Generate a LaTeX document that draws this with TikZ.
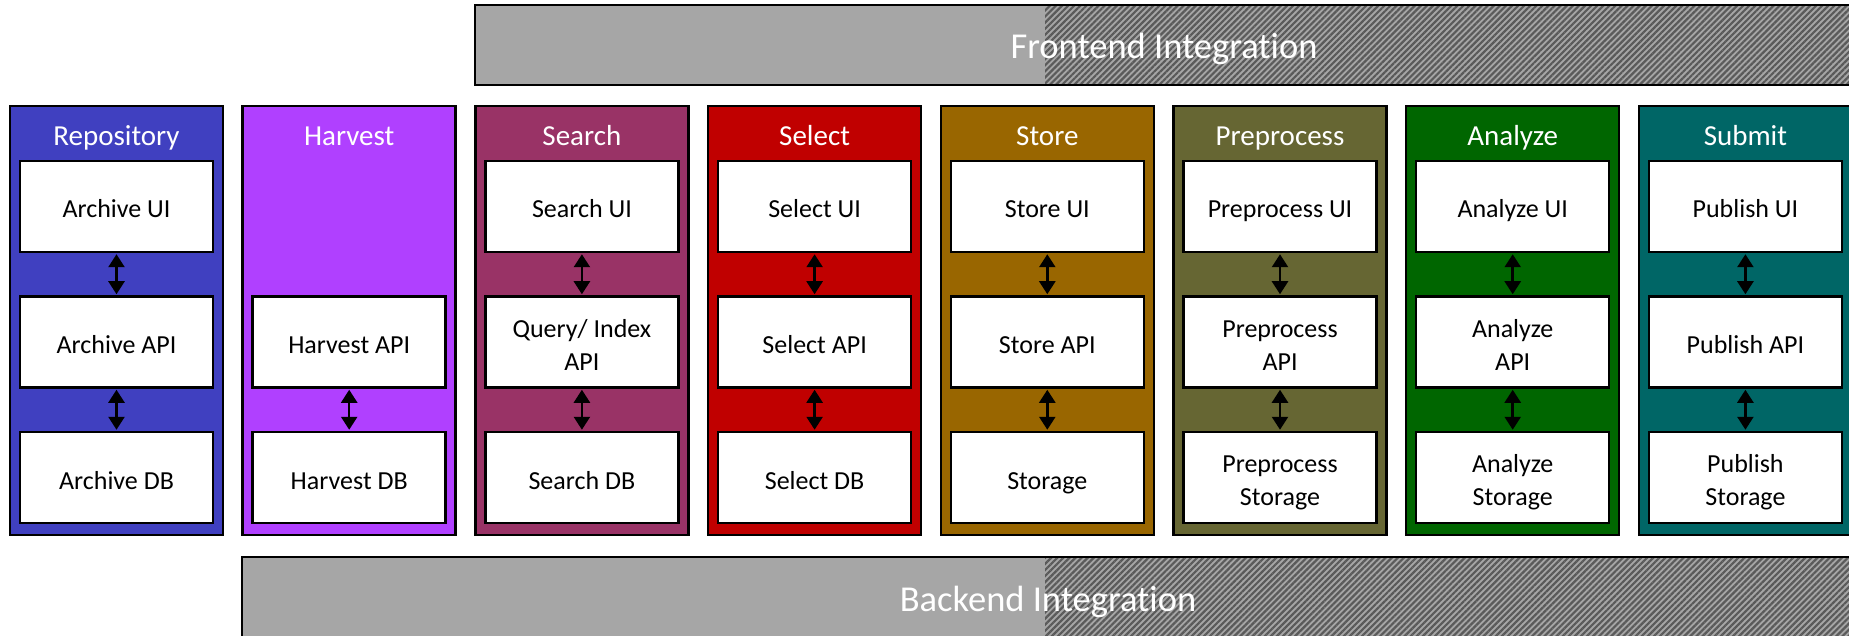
\documentclass[tikz,border=0pt]{standalone}
\usepackage{fontspec}
\setmainfont{Carlito}[Ligatures=NoCommon]
\usetikzlibrary{arrows.meta,patterns.meta}
\definecolor{cRepo}{RGB}{64,64,192}
\definecolor{cHarv}{RGB}{176,64,255}
\definecolor{cSearch}{RGB}{153,51,102}
\definecolor{cSelect}{RGB}{192,0,0}
\definecolor{cStore}{RGB}{153,102,0}
\definecolor{cPre}{RGB}{102,102,51}
\definecolor{cAna}{RGB}{0,102,0}
\definecolor{cSub}{RGB}{0,102,102}
\definecolor{barGray}{RGB}{166,166,166}
\definecolor{hatchGray}{RGB}{90,90,90}
\newcommand{\lstrut}{\rule[-7pt]{0pt}{37pt}}
\newcommand{\boxfont}{\fontsize{26}{33}\selectfont\lineskiplimit=-100pt\relax\lineskip=0pt\relax}
\tikzset{
  colbox/.style={draw=black, line width=2.5pt, minimum width=213pt, minimum height=429pt, inner sep=0pt},
  coltitle/.style={text=white, font=\fontsize{29}{34}\selectfont, inner sep=0pt, anchor=base},
  box/.style={draw=black, fill=white, line width=2.5pt, minimum width=193pt, minimum height=91pt, inner sep=0pt, align=center, font=\boxfont},
  dbl/.style={line width=2.5pt, {Triangle[width=16pt,length=13pt]}-{Triangle[width=16pt,length=13pt]}, shorten <=1pt, shorten >=1pt},
  barframe/.style={draw=black, line width=2.5pt},
  bartext/.style={text=white, font=\fontsize{36.5}{42}\selectfont, inner sep=0pt, anchor=base},
  hatch/.style={pattern={Lines[angle=45,distance=4.3pt,line width=2.2pt]}, pattern color=hatchGray}
}
\begin{document}
\begin{tikzpicture}[x=1pt,y=-1pt]
\useasboundingbox (0,0) rectangle (1849,636);
\clip (0,0) rectangle (1849,636);
% Frontend bar
\fill[barGray] (475,5) rectangle (1856,85);
\fill[hatch] (1045,5) rectangle (1856,85);
\draw[barframe] (475,5) rectangle (1856,85);
\node[bartext] (front) at (1164,59) {Frontend Integrat\kern0pt ion};
% Backend bar
\fill[barGray] (242,557) rectangle (1856,642);
\fill[hatch] (1045,557) rectangle (1856,642);
\draw[barframe] (242,557) rectangle (1856,642);
\node[bartext] (back) at (1048,611) {Backend Integrat\kern0pt ion};
% columns
\foreach \i/\c/\t in {0/cRepo/Repository,1/cHarv/Harvest,2/cSearch/Search,3/cSelect/Select,4/cStore/Store,5/cPre/Preprocess,6/cAna/Analyze,7/cSub/Submit}{
  \pgfmathsetmacro{\cx}{116.5+232.7*\i}
  \node[colbox, fill=\c] (col\i) at (\cx,320.5) {};
  \node[coltitle] (title\i) at (\cx,146) {\t};
}
% Repository
\node[box] (repoUI) at (116.5,206.5) {\lstrut Archive UI};
\node[box] (repoAPI) at (116.5,342) {\lstrut Archive API};
\node[box] (repoDB) at (116.5,477.5) {\lstrut Archive DB};
\draw[dbl] (repoUI.south) -- (repoAPI.north);
\draw[dbl] (repoAPI.south) -- (repoDB.north);
% Harvest
\node[box] (harvAPI) at (349.2,342) {\lstrut Harvest API};
\node[box] (harvDB) at (349.2,477.5) {\lstrut Harvest DB};
\draw[dbl] (harvAPI.south) -- (harvDB.north);
% Search
\node[box] (searchUI) at (581.9,206.5) {\lstrut Search UI};
\node[box] (searchAPI) at (581.9,342) {\lstrut Query/ Index\\\lstrut API};
\node[box] (searchDB) at (581.9,477.5) {\lstrut Search DB};
\draw[dbl] (searchUI.south) -- (searchAPI.north);
\draw[dbl] (searchAPI.south) -- (searchDB.north);
% Select
\node[box] (selUI) at (814.6,206.5) {\lstrut Select UI};
\node[box] (selAPI) at (814.6,342) {\lstrut Select API};
\node[box] (selDB) at (814.6,477.5) {\lstrut Select DB};
\draw[dbl] (selUI.south) -- (selAPI.north);
\draw[dbl] (selAPI.south) -- (selDB.north);
% Store
\node[box] (stUI) at (1047.3,206.5) {\lstrut Store UI};
\node[box] (stAPI) at (1047.3,342) {\lstrut Store API};
\node[box] (stDB) at (1047.3,477.5) {\lstrut Storage};
\draw[dbl] (stUI.south) -- (stAPI.north);
\draw[dbl] (stAPI.south) -- (stDB.north);
% Preprocess
\node[box] (preUI) at (1280,206.5) {\lstrut Preprocess UI};
\node[box] (preAPI) at (1280,342) {\lstrut Preprocess\\\lstrut API};
\node[box] (preDB) at (1280,477.5) {\lstrut Preprocess\\\lstrut Storage};
\draw[dbl] (preUI.south) -- (preAPI.north);
\draw[dbl] (preAPI.south) -- (preDB.north);
% Analyze
\node[box] (anaUI) at (1512.7,206.5) {\lstrut Analyze UI};
\node[box] (anaAPI) at (1512.7,342) {\lstrut Analyze\\\lstrut API};
\node[box] (anaDB) at (1512.7,477.5) {\lstrut Analyze\\\lstrut Storage};
\draw[dbl] (anaUI.south) -- (anaAPI.north);
\draw[dbl] (anaAPI.south) -- (anaDB.north);
% Submit
\node[box] (subUI) at (1745.4,206.5) {\lstrut Publish UI};
\node[box] (subAPI) at (1745.4,342) {\lstrut Publish API};
\node[box] (subDB) at (1745.4,477.5) {\lstrut Publish\\\lstrut Storage};
\draw[dbl] (subUI.south) -- (subAPI.north);
\draw[dbl] (subAPI.south) -- (subDB.north);
\end{tikzpicture}
\end{document}
